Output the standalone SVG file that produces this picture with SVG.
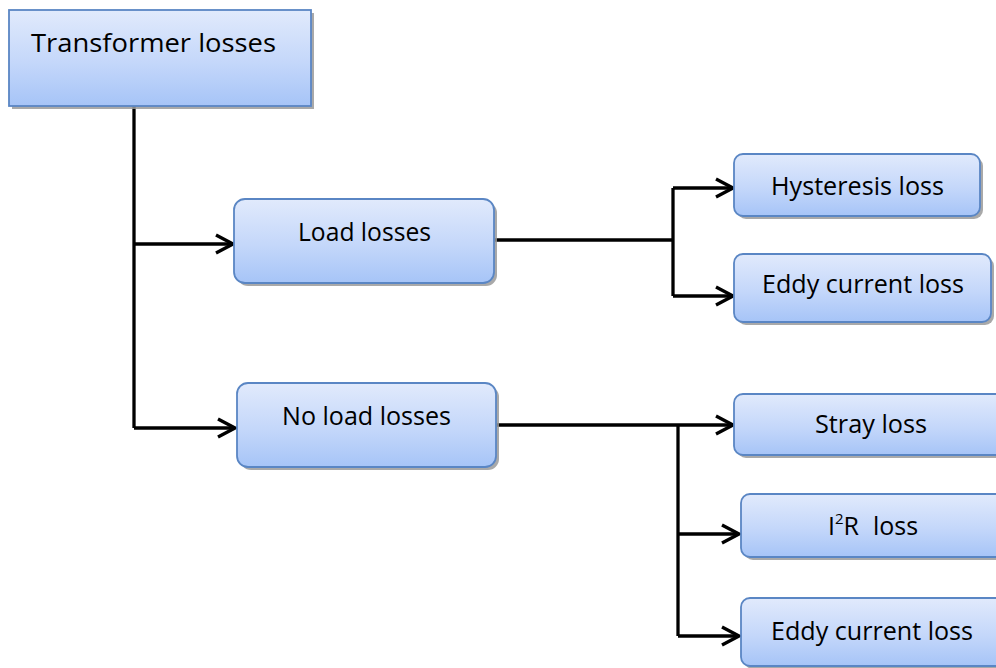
<svg xmlns="http://www.w3.org/2000/svg" width="996" height="668" viewBox="0 0 996 668">
<defs>
<linearGradient id="g" x1="0" y1="0" x2="0" y2="1">
<stop offset="0" stop-color="#e1eafc"/>
<stop offset="0.55" stop-color="#c4d7fa"/>
<stop offset="1" stop-color="#a6c4f7"/>
</linearGradient>
<marker id="arr" markerUnits="userSpaceOnUse" markerWidth="24" markerHeight="24" viewBox="-20 -12 24 24" refX="0" refY="0" orient="auto" overflow="visible">
<path d="M-17,-9 L0,0 L-17,9" fill="none" stroke="#000" stroke-width="3.4" stroke-linejoin="miter"/>
</marker>
</defs>
<style>
.box{fill:url(#g);stroke:#5a86c4;stroke-width:1.8}
.sh{fill:#9a9a9a;opacity:0.85}
.t{font-family:"Open Sans","Liberation Sans",sans-serif;font-size:25px;fill:#000}
.c{fill:none;stroke:#000;stroke-width:3.3}
</style>
<rect width="996" height="668" fill="#fff"/>
<g id="connectors">
<path class="c" d="M134,106 V428"/>
<path class="c" d="M134,244 H233" marker-end="url(#arr)"/>
<path class="c" d="M134,428 H235" marker-end="url(#arr)"/>
<path class="c" d="M495,240 H673"/>
<path class="c" d="M673,188 V296"/>
<path class="c" d="M673,188 H733" marker-end="url(#arr)"/>
<path class="c" d="M673,296 H733" marker-end="url(#arr)"/>
<path class="c" d="M497,425 H733" marker-end="url(#arr)"/>
<path class="c" d="M678,425 V636"/>
<path class="c" d="M678,534 H739" marker-end="url(#arr)"/>
<path class="c" d="M678,636 H739" marker-end="url(#arr)"/>
</g>
<g id="transformer-losses">
<rect class="sh" x="12" y="13" width="302" height="96"/>
<rect class="box" x="9" y="10" width="302" height="96"/>
<text class="t" x="31" y="52" textLength="245" lengthAdjust="spacingAndGlyphs">Transformer losses</text>
</g>
<g id="load-losses">
<rect class="sh" x="237" y="202" width="260" height="84" rx="11"/>
<rect class="box" x="234" y="199" width="260" height="84" rx="11"/>
<text class="t" x="298" y="241" textLength="133" lengthAdjust="spacingAndGlyphs">Load losses</text>
</g>
<g id="no-load-losses">
<rect class="sh" x="240" y="386" width="259" height="84" rx="11"/>
<rect class="box" x="237" y="383" width="259" height="84" rx="11"/>
<text class="t" x="282" y="425" textLength="169" lengthAdjust="spacingAndGlyphs">No load losses</text>
</g>
<g id="hysteresis-loss">
<rect class="sh" x="737" y="157" width="246" height="62" rx="9"/>
<rect class="box" x="734" y="154" width="246" height="62" rx="9"/>
<text class="t" x="771" y="195" textLength="173" lengthAdjust="spacingAndGlyphs">Hysteresis loss</text>
</g>
<g id="eddy-current-loss-1">
<rect class="sh" x="737" y="257" width="257" height="68" rx="9"/>
<rect class="box" x="734" y="254" width="257" height="68" rx="9"/>
<text class="t" x="762" y="293" textLength="202" lengthAdjust="spacingAndGlyphs">Eddy current loss</text>
</g>
<g id="stray-loss">
<rect class="sh" x="737" y="397" width="290" height="61" rx="9"/>
<rect class="box" x="734" y="394" width="290" height="61" rx="9"/>
<text class="t" x="815" y="433" textLength="112" lengthAdjust="spacingAndGlyphs">Stray loss</text>
</g>
<g id="i2r-loss">
<rect class="sh" x="744" y="497" width="290" height="63" rx="9"/>
<rect class="box" x="741" y="494" width="290" height="63" rx="9"/>
<text class="t" x="828" y="535"><tspan>I</tspan><tspan font-size="15" dy="-11">2</tspan><tspan dy="11">R</tspan><tspan dx="14">loss</tspan></text>
</g>
<g id="eddy-current-loss-2">
<rect class="sh" x="744" y="601" width="290" height="68" rx="9"/>
<rect class="box" x="741" y="598" width="290" height="68" rx="9"/>
<text class="t" x="771" y="640" textLength="202" lengthAdjust="spacingAndGlyphs">Eddy current loss</text>
</g>
</svg>
